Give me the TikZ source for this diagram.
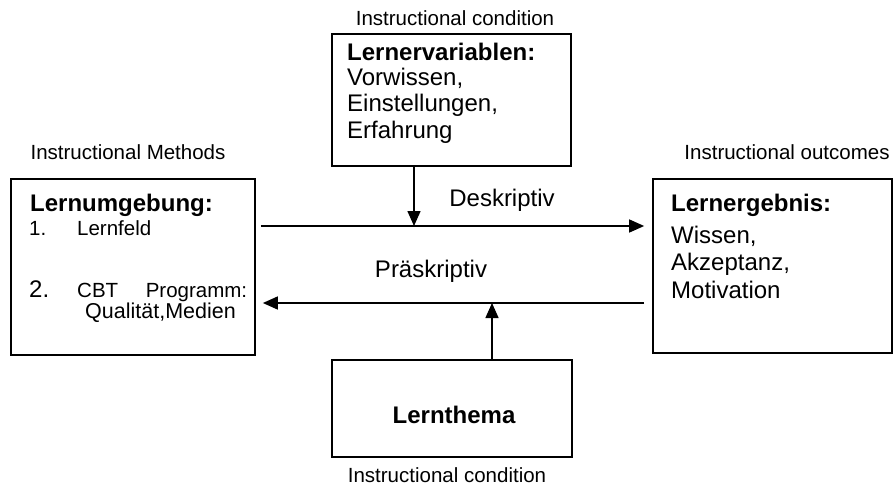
\documentclass[tikz,border=0pt]{standalone}
\usepackage{fontspec}
\setmainfont{Liberation Sans}
\usetikzlibrary{arrows.meta}
\begin{document}
\begin{tikzpicture}[x=1pt,y=-1pt,
  box/.style={draw, line width=1.7pt, inner sep=0pt},
  conn/.style={line width=1.5pt, -{Triangle[length=15pt,width=13pt]}},
  big/.style={font=\fontsize{24}{28}\selectfont, anchor=base west, inner sep=0pt},
  bigb/.style={big, font=\fontsize{24}{28}\selectfont\bfseries},
  small/.style={font=\fontsize{20.5}{24}\selectfont, anchor=base west, inner sep=0pt},
  caption/.style={font=\fontsize{20.5}{24}\selectfont, anchor=base, inner sep=0pt}]
\useasboundingbox (0,0) rectangle (894,490);

% boxes
\node[box, minimum width=244pt, minimum height=176pt] (lu) at (133,267) {};
\node[box, minimum width=239pt, minimum height=132pt] (lv) at (451.5,100) {};
\node[box, minimum width=239pt, minimum height=174pt] (le) at (772.5,266) {};
\node[box, minimum width=240pt, minimum height=97pt] (lt) at (452,408.5) {};

% captions
\node[caption] (c1) at (455,25) {Instructional condition};
\node[caption] (c2) at (128,159) {Instructional Methods};
\node[caption] (c3) at (787,159) {Instructional outcomes};
\node[caption] (c4) at (447,482) {Instructional condition};

% learner variables
\node[bigb] (v1) at (347,60) {Lernervariablen:};
\node[big] (v2) at (347,85) {Vorwissen,};
\node[big] (v3) at (347,111) {Einstellungen,};
\node[big] (v4) at (347,138) {Erfahrung};

% learning environment
\node[bigb] (u1) at (30,211) {Lernumgebung:};
\node[small] (u2) at (29,235) {1.};
\node[small] (u3) at (77,235) {Lernfeld};
\node[big] (u4) at (29,297) {2.};
\node[small] (u5) at (77,297) {\makebox[170pt][l]{CBT\hfill Programm:}};
\node[small, font=\fontsize{21.5}{24}\selectfont] (u6) at (85,318) {Qualität,Medien};

% learning outcome
\node[bigb] (e1) at (671,211) {Lernergebnis:};
\node[big] (e2) at (671,243) {Wissen,};
\node[big] (e3) at (671,270) {Akzeptanz,};
\node[big] (e4) at (671,298) {Motivation};

% topic
\node[bigb, anchor=base] (t1) at (454,423) {Lernthema};

% relation labels
\node[big, anchor=base] (d) at (502,206) {Deskriptiv};
\node[big, anchor=base] (p) at (431,277) {Präskriptiv};

% connectors
\coordinate (desk) at (0,226);
\coordinate (prae) at (0,303);
\coordinate (dv) at (414,0);
\coordinate (pv) at (492,0);
\draw[conn, shorten <=5pt, shorten >=8pt] (lu.east |- desk) -- (le.west |- desk);
\draw[conn, shorten <=8pt, shorten >=7pt] (le.west |- prae) -- (lu.east |- prae);
\draw[conn] (lv.south -| dv) -- (dv |- desk);
\draw[conn] (lt.north -| pv) -- (pv |- prae);
\end{tikzpicture}
\end{document}
